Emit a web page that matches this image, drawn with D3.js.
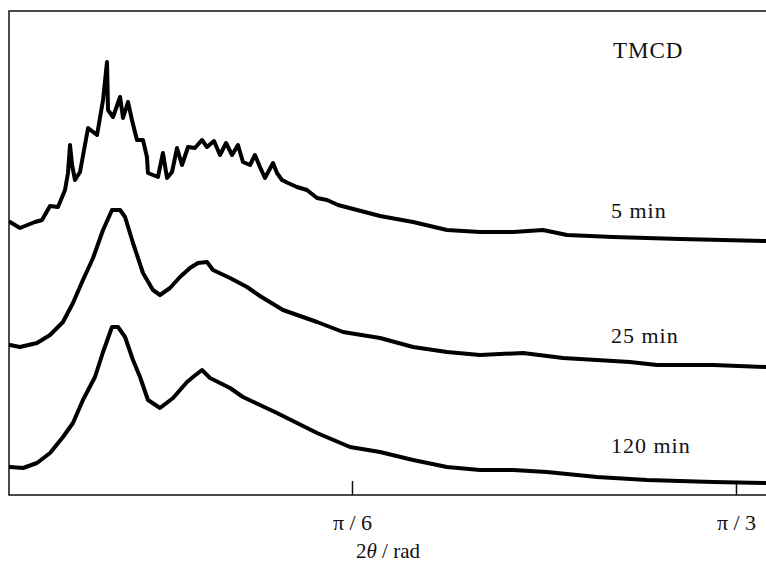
<!DOCTYPE html>
<html>
<head>
<meta charset="utf-8">
<script src="https://cdn.jsdelivr.net/npm/d3@7"></script>
<style>
  body { margin: 0; background: #fff; }
  text { font-family: "Liberation Serif", "DejaVu Serif", serif; fill: #111; }
</style>
</head>
<body>
<script>
// 2theta in degrees, intensity in arbitrary units (curves stacked as plotted)
var twoTheta5 = [3.28, 4.06, 5.23, 5.78, 6.41, 7.03, 7.58, 7.81, 7.97, 8.13, 8.36, 8.75, 9.38, 10.08, 10.55, 10.86, 10.94, 11.33, 11.88, 12.11, 12.5, 12.81, 13.20, 13.67, 13.98, 14.06, 14.45, 14.84, 15.23, 15.55, 15.94, 16.33, 16.72, 17.19, 17.73, 18.28, 18.67, 19.22, 19.69, 20.16, 20.63, 21.09, 21.48, 22.03, 22.42, 22.81, 23.20, 23.83, 24.14, 24.53, 25.0, 25.70, 26.48, 27.27, 28.05, 28.91, 32.19, 34.77, 37.42, 40.0, 42.58, 44.92, 46.80, 50.39, 55.63, 62.34]
var int5 = [273, 267, 273, 275, 289, 288, 305, 322, 350, 330, 315, 323, 367, 360, 395, 433, 385, 378, 398, 377, 393, 375, 355, 355, 338, 322, 320, 318, 342, 317, 323, 347, 330, 348, 347, 355, 348, 354, 340, 352, 340, 350, 333, 330, 340, 328, 317, 332, 322, 315, 312, 308, 305, 297, 295, 290, 279, 273, 265, 263, 263, 265, 260, 258, 256, 254]

var twoTheta25 = [3.28, 4.06, 5.39, 6.41, 7.42, 8.20, 8.98, 9.77, 10.55, 11.25, 11.88, 12.27, 12.89, 13.67, 14.45, 15.0, 15.78, 16.56, 17.34, 17.97, 18.67, 19.14, 20.47, 21.80, 22.81, 24.61, 27.27, 29.30, 32.19, 34.77, 37.42, 40.0, 43.36, 46.48, 51.72, 53.83, 58.20, 62.34]
var int25 = [150, 148, 152, 160, 173, 192, 215, 237, 265, 285, 285, 278, 252, 222, 205, 200, 207, 218, 227, 232, 233, 225, 217, 208, 199, 185, 173, 163, 157, 148, 143, 140, 142, 137, 133, 130, 130, 128]

var twoTheta120 = [3.28, 4.30, 5.39, 6.41, 7.42, 8.20, 8.98, 9.92, 10.55, 11.25, 11.72, 12.27, 12.89, 13.44, 14.06, 15.0, 16.02, 17.11, 17.58, 18.28, 18.91, 20.47, 21.48, 22.81, 24.14, 27.27, 29.84, 32.19, 34.77, 37.42, 40.0, 42.58, 45.23, 49.14, 53.05, 58.20, 62.34]
var int120 = [28, 27, 32, 42, 58, 72, 95, 118, 143, 168, 168, 158, 135, 118, 95, 87, 97, 113, 118, 125, 117, 107, 98, 90, 82, 62, 48, 43, 35, 28, 25, 25, 23, 18, 15, 13, 12]

var seriesNames = ['5 min', '25 min', '120 min']
var labelAt = [218, 343, 453]   // label baselines (y px)
var tickRad = [Math.PI / 6, Math.PI / 3]
var tickText = ['\u03c0 / 6', '\u03c0 / 3']

var W = 766, H = 566
var plotL = 9, plotT = 11, plotB = 495, plotR = 766

var svg = d3.select('body').append('svg')
  .attr('width', W)
  .attr('height', H)

var x = d3.scaleLinear().domain([Math.PI / 6, Math.PI / 3]).range([352, 736])
var y = d3.scaleLinear().domain([0, 484]).range([plotB, plotT])

svg.append('clipPath').attr('id', 'plot')
  .append('rect').attr('x', plotL).attr('y', plotT).attr('width', plotR - plotL).attr('height', plotB - plotT)

// frame: left, top, bottom (no right side)
svg.append('path')
  .attr('d', 'M' + (plotR + 2) + ',' + plotT + 'H' + plotL + 'V' + plotB + 'H' + (plotR + 2))
  .attr('fill', 'none')
  .attr('stroke', '#111')
  .attr('stroke-width', 1.5)

var xAxis = d3.axisBottom(x)
  .tickValues(tickRad)
  .tickSizeInner(-14)
  .tickSizeOuter(0)
  .tickFormat(function(d, i) { return tickText[i] })

var gx = svg.append('g').attr('transform', 'translate(0,' + plotB + ')').call(xAxis)
gx.select('.domain').remove()
gx.selectAll('.tick line').attr('stroke', '#111').attr('stroke-width', 1.5)
gx.selectAll('.tick text')
  .attr('y', 35)
  .attr('dy', 0)
  .attr('fill', '#111')
  .style('font-size', '22px')
  .style('font-family', '"Liberation Serif", serif')

var line = d3.line()
  .x(function(d) { return x(d[0] * Math.PI / 180) })
  .y(function(d) { return y(d[1]) })
  .curve(d3.curveLinear)

var data = [
  d3.zip(twoTheta5, int5),
  d3.zip(twoTheta25, int25),
  d3.zip(twoTheta120, int120)
]

svg.append('g').attr('clip-path', 'url(#plot)')
  .selectAll('path').data(data).enter().append('path')
  .attr('d', line)
  .attr('fill', 'none')
  .attr('stroke', '#000')
  .attr('stroke-width', 4)
  .attr('stroke-linejoin', 'round')
  .attr('stroke-linecap', 'round')

svg.selectAll('text.series').data(seriesNames).enter().append('text')
  .attr('class', 'series')
  .attr('x', 611)
  .attr('y', function(d, i) { return labelAt[i] })
  .style('font-size', '22px')
  .style('letter-spacing', '1px')
  .text(function(d) { return d })

svg.append('text')
  .attr('x', 613).attr('y', 58)
  .style('font-size', '23px')
  .style('letter-spacing', '1px')
  .text('TMCD')

var xt = svg.append('text')
  .attr('x', 388).attr('y', 558)
  .attr('text-anchor', 'middle')
  .style('font-size', '21px')
xt.append('tspan').text('2')
xt.append('tspan').style('font-style', 'italic').text('\u03b8')
xt.append('tspan').text(' / rad')
</script>
</body>
</html>
